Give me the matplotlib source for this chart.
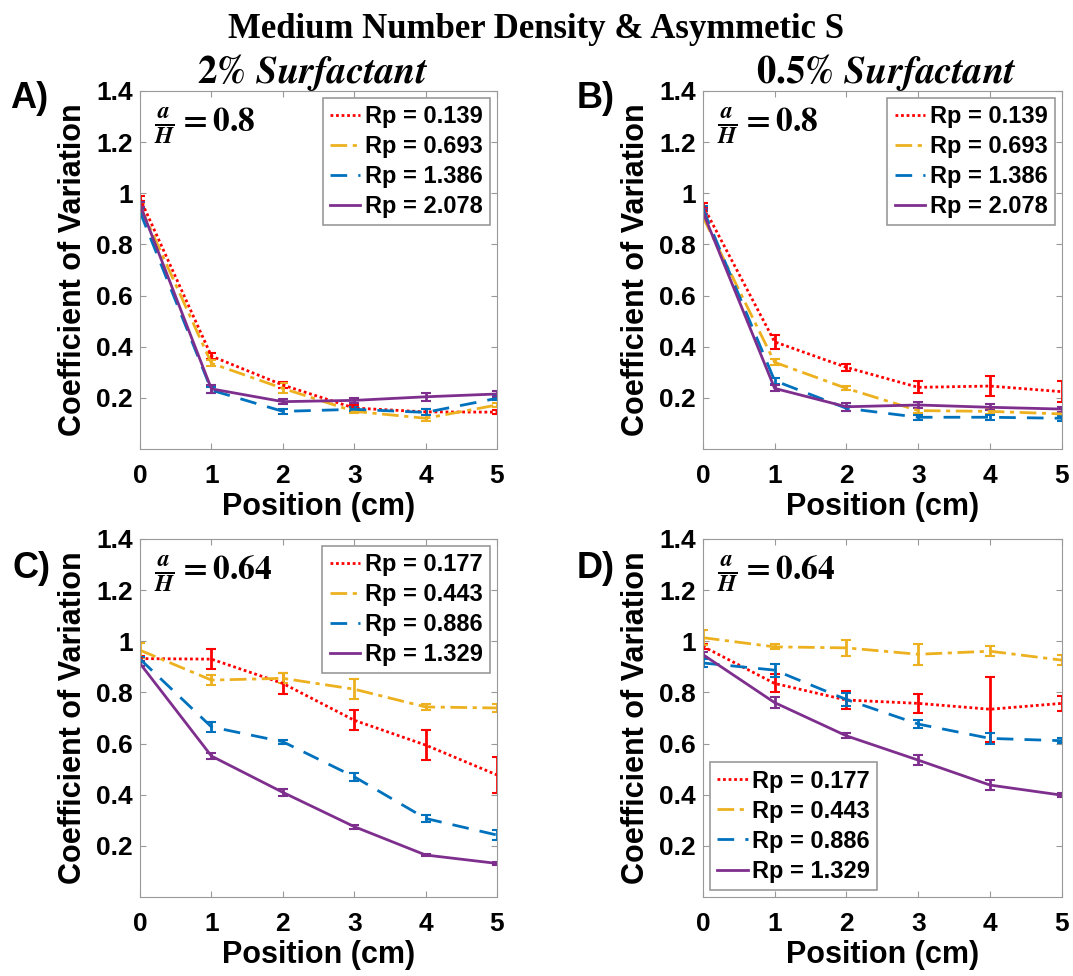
import numpy as np
import matplotlib.pyplot as plt

plt.rcParams["font.family"] = ["Liberation Sans", "DejaVu Sans"]
plt.rcParams["font.weight"] = "bold"
plt.rcParams["mathtext.fontset"] = "stix"

position = [0, 1, 2, 3, 4, 5]

# 2% surfactant, a/H = 0.8
rp_a = ["0.139", "0.693", "1.386", "2.078"]
cv_a = [
    [0.98, 0.363, 0.25, 0.16, 0.145, 0.144],
    [0.95, 0.335, 0.237, 0.147, 0.12, 0.172],
    [0.927, 0.23, 0.147, 0.155, 0.143, 0.198],
    [0.955, 0.235, 0.185, 0.19, 0.204, 0.215],
]
err_a = [
    [0.01, 0.012, 0.012, 0.01, 0.012, 0.008],
    [0.01, 0.012, 0.02, 0.008, 0.012, 0.008],
    [0.01, 0.012, 0.01, 0.008, 0.012, 0.008],
    [0.01, 0.015, 0.01, 0.01, 0.015, 0.01],
]

# 0.5% surfactant, a/H = 0.8
rp_b = ["0.139", "0.693", "1.386", "2.078"]
cv_b = [
    [0.953, 0.419, 0.319, 0.241, 0.246, 0.224],
    [0.908, 0.339, 0.237, 0.15, 0.147, 0.137],
    [0.94, 0.267, 0.159, 0.124, 0.124, 0.12],
    [0.927, 0.237, 0.165, 0.172, 0.163, 0.156],
]
err_b = [
    [0.01, 0.028, 0.015, 0.023, 0.04, 0.04],
    [0.01, 0.012, 0.008, 0.01, 0.01, 0.008],
    [0.01, 0.012, 0.01, 0.01, 0.01, 0.01],
    [0.01, 0.012, 0.015, 0.012, 0.012, 0.01],
]

# 2% surfactant, a/H = 0.64
rp_c = ["0.177", "0.443", "0.886", "1.329"]
cv_c = [
    [0.932, 0.93, 0.835, 0.691, 0.594, 0.477],
    [0.965, 0.848, 0.855, 0.8125, 0.743, 0.739],
    [0.93, 0.665, 0.607, 0.47, 0.307, 0.242],
    [0.913, 0.551, 0.409, 0.275, 0.164, 0.131],
]
err_c = [
    [0.01, 0.039, 0.04, 0.04, 0.06, 0.07],
    [0.03, 0.02, 0.02, 0.04, 0.01, 0.015],
    [0.01, 0.02, 0.008, 0.015, 0.015, 0.02],
    [0.01, 0.01, 0.015, 0.008, 0.005, 0.005],
]

# 0.5% surfactant, a/H = 0.64
rp_d = ["0.177", "0.443", "0.886", "1.329"]
cv_d = [
    [0.98, 0.835, 0.77, 0.757, 0.734, 0.757],
    [1.014, 0.978, 0.974, 0.949, 0.961, 0.926],
    [0.915, 0.887, 0.772, 0.676, 0.62, 0.611],
    [0.948, 0.76, 0.63, 0.535, 0.4375, 0.398],
]
err_d = [
    [0.01, 0.035, 0.035, 0.037, 0.127, 0.03],
    [0.03, 0.01, 0.03, 0.04, 0.02, 0.02],
    [0.015, 0.025, 0.025, 0.015, 0.02, 0.01],
    [0.01, 0.02, 0.01, 0.02, 0.02, 0.008],
]

colors = ["#ff0000", "#edb120", "#0072bd", "#7e2f8e"]
styles = [(0, (1, 1)), (0, (6, 2, 1.5, 2)), (0, (6, 4)), "-"]


def draw_panel(ax, cv, err, rp, ratio, legend_loc):
    lines = []
    for i in range(4):
        eb = ax.errorbar(position, cv[i], yerr=err[i], color=colors[i],
                         linestyle=styles[i], linewidth=2, elinewidth=2,
                         capsize=3.5, capthick=1.5,
                         label=f"Rp = {rp[i]}")
        lines.append(eb.lines[0])
    ax.set_xlim(0, 5)
    ax.set_ylim(0, 1.4)
    ax.set_xticks(position)
    ax.set_yticks([0.2, 0.4, 0.6, 0.8, 1.0, 1.2, 1.4])
    ax.set_yticklabels(["0.2", "0.4", "0.6", "0.8", "1", "1.2", "1.4"])
    ax.tick_params(direction="in", top=True, right=True, length=4,
                   labelsize=19, color="0.6")
    ax.tick_params(axis="x", pad=11)
    ax.tick_params(axis="y", pad=5)
    for s in ax.spines.values():
        s.set_color("0.6")
    ax.set_xlabel("Position (cm)", fontsize=22, fontweight="bold", labelpad=3)
    ax.set_ylabel("Coefficient of Variation", fontsize=22, fontweight="bold",
                  labelpad=6)
    ax.text(0.04, 0.96, r"$\frac{\mathbfit{a}}{\mathbfit{H}}=\mathbf{" + ratio + "}$",
            transform=ax.transAxes, fontsize=24, va="top", ha="left")
    leg = ax.legend(lines, [f"Rp = {r}" for r in rp], loc=legend_loc,
                    fontsize=17, handlelength=1.3, handletextpad=0.2,
                    borderpad=0.3, labelspacing=0.3, borderaxespad=0.3,
                    fancybox=False, framealpha=1)
    leg.get_frame().set_edgecolor("0.6")
    leg.get_frame().set_linewidth(1.2)
    for t in leg.get_texts():
        t.set_fontweight("bold")


fig = plt.figure(figsize=(10.73, 9.76), dpi=100)
ax_a = fig.add_axes([0.1305, 0.540, 0.3327, 0.3668])
ax_b = fig.add_axes([0.655, 0.540, 0.3346, 0.3668])
ax_c = fig.add_axes([0.1305, 0.081, 0.3327, 0.3668])
ax_d = fig.add_axes([0.655, 0.081, 0.3346, 0.3668])

draw_panel(ax_a, cv_a, err_a, rp_a, "0.8", "upper right")
draw_panel(ax_b, cv_b, err_b, rp_b, "0.8", "upper right")
draw_panel(ax_c, cv_c, err_c, rp_c, "0.64", "upper right")
draw_panel(ax_d, cv_d, err_d, rp_d, "0.64", "lower left")

for lab, x, y in [("A)", 0.009, 0.899), ("B)", 0.537, 0.899),
                  ("C)", 0.012, 0.418), ("D)", 0.537, 0.418)]:
    fig.text(x, y, lab, fontsize=26, fontweight="bold", va="center")

fig.text(0.5, 0.97, "Medium Number Density & Asymmetic S",
         family=["Liberation Serif", "DejaVu Serif"], fontsize=25,
         fontweight="bold", ha="center", va="center")
fig.text(0.291, 0.926, r"$\mathbf{2\%}\ \mathbfit{Surfactant}$",
         fontsize=28, ha="center", va="center")
fig.text(0.826, 0.926, r"$\mathbf{0.5\%}\ \mathbfit{Surfactant}$",
         fontsize=28, ha="center", va="center")

fig.savefig("out.png", dpi=100)
